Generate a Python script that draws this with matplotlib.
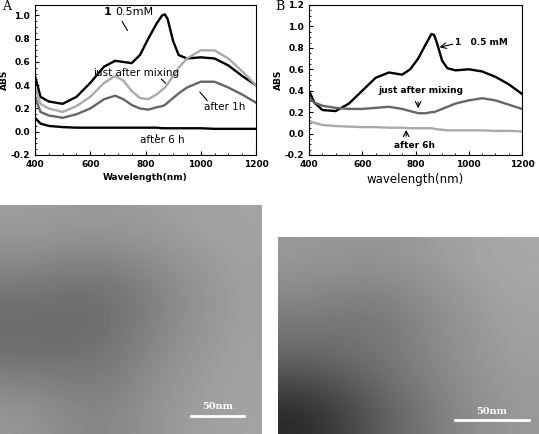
import numpy as np
import matplotlib.pyplot as plt

# Panel A spectra (wavelength nm, ABS)
wl_a = [400, 420, 450, 500, 550, 600, 650, 690, 720, 750, 780, 810, 840, 860, 870, 880, 900, 920, 950, 1000, 1050, 1100, 1150, 1200]
a_05mM = [0.48, 0.30, 0.26, 0.24, 0.30, 0.42, 0.56, 0.61, 0.60, 0.59, 0.66, 0.80, 0.93, 1.00, 1.01, 0.97, 0.78, 0.66, 0.63, 0.64, 0.63, 0.57, 0.48, 0.40]
a_mix = [0.38, 0.24, 0.20, 0.17, 0.22, 0.30, 0.42, 0.48, 0.44, 0.35, 0.29, 0.28, 0.32, 0.36, 0.38, 0.41, 0.48, 0.55, 0.63, 0.70, 0.70, 0.63, 0.52, 0.40]
a_1h = [0.30, 0.17, 0.14, 0.12, 0.15, 0.20, 0.28, 0.31, 0.28, 0.23, 0.20, 0.19, 0.21, 0.22, 0.23, 0.25, 0.29, 0.33, 0.38, 0.43, 0.43, 0.38, 0.32, 0.25]
a_6h = [0.12, 0.07, 0.05, 0.04, 0.035, 0.035, 0.035, 0.035, 0.035, 0.035, 0.035, 0.035, 0.035, 0.03, 0.03, 0.03, 0.03, 0.03, 0.03, 0.03, 0.025, 0.025, 0.025, 0.025]

# Panel B spectra
wl_b = [400, 420, 450, 500, 550, 600, 650, 700, 750, 780, 810, 840, 860, 870, 880, 900, 920, 950, 1000, 1050, 1100, 1150, 1200]
b_05mM = [0.40, 0.29, 0.22, 0.21, 0.28, 0.40, 0.52, 0.57, 0.55, 0.60, 0.70, 0.84, 0.93, 0.92, 0.85, 0.68, 0.61, 0.59, 0.60, 0.58, 0.53, 0.46, 0.37]
b_mix = [0.33, 0.29, 0.26, 0.24, 0.23, 0.23, 0.24, 0.25, 0.23, 0.21, 0.19, 0.19, 0.20, 0.20, 0.21, 0.23, 0.25, 0.28, 0.31, 0.33, 0.31, 0.27, 0.23]
b_6h = [0.12, 0.10, 0.08, 0.07, 0.065, 0.06, 0.06, 0.055, 0.055, 0.05, 0.05, 0.05, 0.05, 0.045, 0.04, 0.035, 0.03, 0.03, 0.03, 0.03, 0.025, 0.025, 0.02]

W, H = 539, 434
fig = plt.figure(figsize=(W / 100, H / 100), dpi=100)
fs = 6.5


def px_axes(x0, y0, x1, y1):
    return fig.add_axes([x0 / W, 1 - y1 / H, (x1 - x0) / W, (y1 - y0) / H])


def style(ax, ytop):
    ax.set_xlim(400, 1200)
    ax.set_ylim(-0.2, ytop)
    ax.set_xticks([400, 600, 800, 1000, 1200])
    ax.set_yticks(np.arange(-0.2, 1.21, 0.2))
    ax.set_yticklabels([f"{v:.1f}" for v in np.arange(-0.2, 1.21, 0.2)])
    ax.set_ylim(-0.2, ytop)
    ax.minorticks_on()
    ax.tick_params(labelsize=fs, direction='in', length=3, width=0.8)
    ax.tick_params(which='minor', direction='in', length=1.5)
    for lbl in ax.get_xticklabels() + ax.get_yticklabels():
        lbl.set_fontweight('bold')
    ax.set_ylabel('ABS', fontsize=fs, fontweight='bold', labelpad=1)


axA = px_axes(35, 5, 256, 155)
axA.plot(wl_a, a_05mM, color='black', lw=1.7)
axA.plot(wl_a, a_mix, color='#aaaaaa', lw=1.7)
axA.plot(wl_a, a_1h, color='#666666', lw=1.7)
axA.plot(wl_a, a_6h, color='black', lw=1.7)
style(axA, 1.09)
axA.set_xlabel('Wavelength(nm)', fontsize=fs, fontweight='bold', labelpad=3)
axA.text(650, 1.0, '1', fontsize=8, fontweight='bold')
axA.text(690, 1.0, '0.5mM', fontsize=8)
axA.annotate('', xy=(740, 0.85), xytext=(710, 0.97), arrowprops=dict(arrowstyle='-', lw=0.8))
axA.text(610, 0.48, 'just after mixing', fontsize=7.5)
axA.annotate('', xy=(880, 0.40), xytext=(850, 0.47), arrowprops=dict(arrowstyle='-', lw=0.8))
axA.text(1010, 0.19, 'after 1h', fontsize=7.5)
axA.annotate('', xy=(990, 0.36), xytext=(1030, 0.25), arrowprops=dict(arrowstyle='-', lw=0.8))
axA.text(780, -0.1, 'after 6 h', fontsize=7.5)
axA.annotate('', xy=(840, 0.0), xytext=(840, -0.07), arrowprops=dict(arrowstyle='-', lw=0.8))
fig.text(2 / W, 1 - 10 / H, 'A', fontsize=9, family='DejaVu Serif')

axB = px_axes(309, 5, 522, 155)
axB.plot(wl_b, b_05mM, color='black', lw=1.7)
axB.plot(wl_b, b_mix, color='#666666', lw=1.7)
axB.plot(wl_b, b_6h, color='#aaaaaa', lw=1.7)
style(axB, 1.2)
axB.set_xlabel('wavelength(nm)', fontsize=8.5, labelpad=3)
axB.text(950, 0.83, '1   0.5 mM', fontsize=6.5, fontweight='bold')
axB.annotate('', xy=(880, 0.80), xytext=(950, 0.84), arrowprops=dict(arrowstyle='->', lw=0.8))
axB.text(660, 0.38, 'just after mixing', fontsize=6.5, fontweight='bold')
axB.annotate('', xy=(810, 0.21), xytext=(810, 0.32), arrowprops=dict(arrowstyle='->', lw=0.8))
axB.text(720, -0.13, 'after 6h', fontsize=6.5, fontweight='bold')
axB.annotate('', xy=(765, 0.06), xytext=(765, -0.05), arrowprops=dict(arrowstyle='->', lw=0.8))
fig.text(275 / W, 1 - 10 / H, 'B', fontsize=9, family='DejaVu Serif')


def tem(ax, shade):
    ax.set_xlim(0, 1)
    ax.set_ylim(0, 1)
    ax.imshow(shade, cmap='gray', vmin=0, vmax=1, extent=(0, 1, 0, 1),
              aspect='auto', interpolation='bicubic')
    ax.set_xticks([])
    ax.set_yticks([])
    for s in ax.spines.values():
        s.set_visible(False)


# TEM panels as smooth gray shading
tem_left = [[0.62, 0.60, 0.62, 0.64], [0.45, 0.40, 0.50, 0.62], [0.40, 0.42, 0.55, 0.63], [0.60, 0.50, 0.60, 0.64]]
tem_right = [[0.60, 0.58, 0.62, 0.66], [0.50, 0.45, 0.55, 0.64], [0.40, 0.45, 0.55, 0.62], [0.15, 0.35, 0.50, 0.60]]

axC = px_axes(0, 205, 262, 434)
tem(axC, tem_left)
axC.plot([0.73, 0.93], [0.08, 0.08], color='white', lw=2)
axC.text(0.83, 0.10, '50nm', color='white', fontsize=7, ha='center', va='bottom', fontweight='bold', family='DejaVu Serif')

axD = px_axes(278, 237, 539, 434)
tem(axD, tem_right)
axD.plot([0.68, 0.96], [0.07, 0.07], color='white', lw=2)
axD.text(0.82, 0.09, '50nm', color='white', fontsize=7, ha='center', va='bottom', fontweight='bold', family='DejaVu Serif')

fig.savefig('out.png', dpi=100)
